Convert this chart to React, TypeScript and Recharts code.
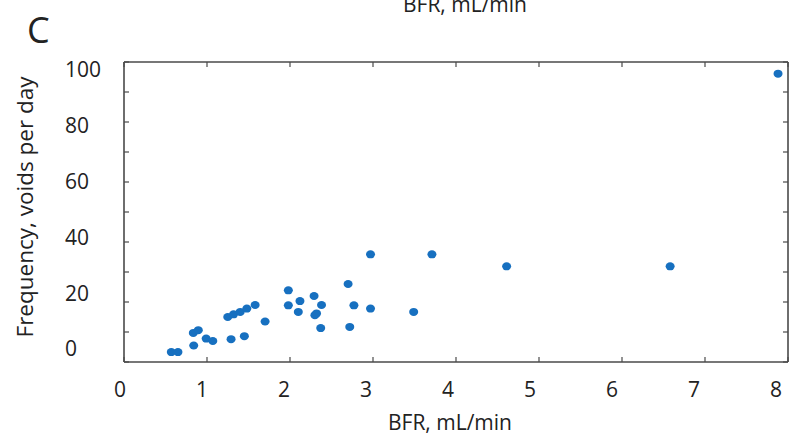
import React from "react";
import { ScatterChart, Scatter, XAxis, YAxis } from "recharts";

// BFR (mL/min) and voiding frequency (voids per day), one entry per subject
const bfr = [
  0.57, 0.65, 0.84, 0.835, 0.895, 0.99, 1.07, 1.29, 1.45, 1.25, 1.32, 1.4, 1.48, 1.58, 1.7,
  1.98, 1.98, 2.12, 2.1, 2.29, 2.3, 2.32, 2.38, 2.37, 2.7, 2.72, 2.77, 2.97, 2.97, 3.49, 3.71,
  4.61, 6.58, 7.88,
];
const frequency = [
  3.3, 3.3, 5.5, 9.7, 10.6, 7.8, 7.0, 7.6, 8.6, 15.0, 15.9, 16.7, 17.8, 19.0, 13.5,
  23.9, 18.9, 20.3, 16.7, 22.0, 15.6, 16.2, 19.0, 11.3, 26.0, 11.7, 18.9, 35.9, 17.8, 16.7, 35.9,
  31.9, 31.9, 96.1,
];
const xTicks = [0, 1, 2, 3, 4, 5, 6, 7, 8];
const yTicks = [0, 10, 20, 30, 40, 50, 60, 70, 80, 90, 100];

const data = bfr.map((x, i) => ({ x, y: frequency[i] }));

const FONT = "'Open Sans', 'Liberation Sans', sans-serif";
const INK = "#222";
const FRAME = "#4a4a4a";
const DOT = "#1770c0";

const PLOT_LEFT = 124;
const PLOT_RIGHT = 788;
const PLOT_TOP = 62;
const PLOT_BOTTOM = 362;
const TICK = 5;

// labels in the figure sit slightly off their tick marks
const XTickLabel = (props: any) => {
  const { payload } = props;
  const cx = 120 + (82 / 83) * (payload.coordinate - PLOT_LEFT);
  return (
    <text x={cx} y={390} dy="0.35em" textAnchor="middle" fontSize={21} fontFamily={FONT} fill={INK}>
      {payload.value}
    </text>
  );
};

const YTickLabel = (props: any) => {
  const { payload } = props;
  if (payload.value % 20 !== 0) return <g />;
  const cy = 349 - 0.93 * (PLOT_BOTTOM - payload.coordinate);
  return (
    <text x={65} y={cy} dy="0.35em" textAnchor="start" fontSize={21} fontFamily={FONT} fill={INK}>
      {payload.value}
    </text>
  );
};

const Dot = (props: any) => <ellipse cx={props.cx} cy={props.cy} rx={4.5} ry={4} fill={DOT} />;

// top and right sides of the box, same tick spacing as the axes
const xMax = xTicks[xTicks.length - 1];
const yMax = yTicks[yTicks.length - 1];
const topTickX = xTicks.map((v) => PLOT_LEFT + (v / xMax) * (PLOT_RIGHT - PLOT_LEFT));
const rightTickY = yTicks.map((v) => PLOT_BOTTOM - (v / yMax) * (PLOT_BOTTOM - PLOT_TOP));

export default function App() {
  const axisLine = { stroke: FRAME, strokeWidth: 1.6 };
  const tickLine = { stroke: FRAME, strokeWidth: 1.2 };
  return (
    <div style={{ position: "absolute", left: 0, top: 0, width: 801, height: 438, background: "#fff" }}>
      <ScatterChart width={801} height={438} margin={{ top: 62, right: 13, bottom: 36, left: 64 }}>
        <XAxis
          type="number"
          dataKey="x"
          domain={[0, 8]}
          ticks={xTicks}
          height={40}
          axisLine={axisLine}
          tickLine={tickLine}
          tickSize={-TICK}
          tick={<XTickLabel />}
        />
        <YAxis
          type="number"
          dataKey="y"
          domain={[0, 100]}
          ticks={yTicks}
          width={60}
          axisLine={axisLine}
          tickLine={tickLine}
          tickSize={-TICK}
          tick={<YTickLabel />}
        />
        <Scatter data={data} fill={DOT} shape={<Dot />} isAnimationActive={false} />
      </ScatterChart>
      <svg
        width={801}
        height={438}
        style={{ position: "absolute", left: 0, top: 0, pointerEvents: "none" }}
      >
        <line x1={PLOT_LEFT} x2={PLOT_RIGHT} y1={PLOT_TOP} y2={PLOT_TOP} stroke={FRAME} strokeWidth={1.6} />
        <line x1={PLOT_RIGHT} x2={PLOT_RIGHT} y1={PLOT_TOP} y2={PLOT_BOTTOM} stroke={FRAME} strokeWidth={1.6} />
        {topTickX.map((x, i) => (
          <line key={"t" + i} x1={x} x2={x} y1={PLOT_TOP} y2={PLOT_TOP + TICK} stroke={FRAME} strokeWidth={1.2} />
        ))}
        {rightTickY.map((y, i) => (
          <line key={"r" + i} x1={PLOT_RIGHT} x2={PLOT_RIGHT - TICK} y1={y} y2={y} stroke={FRAME} strokeWidth={1.2} />
        ))}
        <text x={465} y={12} textAnchor="middle" fontSize={21} fontFamily={FONT} fill={INK}>
          BFR, mL/min
        </text>
        <text x={27} y={43} fontSize={36} fontFamily={FONT} fill={INK}>
          C
        </text>
        <text
          x={24}
          y={207}
          transform="rotate(-90 24 207)"
          textAnchor="middle"
          dominantBaseline="central"
          fontSize={22.5}
          fontFamily={FONT}
          fill={INK}
        >
          Frequency, voids per day
        </text>
        <text x={450} y={423} dy="0.35em" textAnchor="middle" fontSize={21} fontFamily={FONT} fill={INK}>
          BFR, mL/min
        </text>
      </svg>
    </div>
  );
}
